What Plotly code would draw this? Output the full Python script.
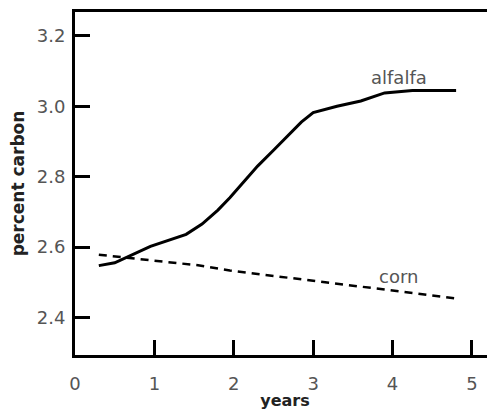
import plotly.graph_objects as go

alfalfa_x = [0.3, 0.5, 0.95, 1.4, 1.6, 1.8, 1.95, 2.15, 2.3, 2.5, 2.65, 2.85, 3.0, 3.3, 3.6, 3.9, 4.25, 4.8]
alfalfa_y = [2.547, 2.555, 2.602, 2.636, 2.665, 2.705, 2.74, 2.79, 2.83, 2.875, 2.91, 2.955, 2.982, 3.0, 3.015, 3.038, 3.045, 3.045]
corn_x = [0.3, 1.0, 1.55, 1.95, 2.5, 3.0, 3.7, 4.3, 4.85]
corn_y = [2.578, 2.562, 2.548, 2.533, 2.518, 2.505, 2.485, 2.468, 2.452]
x_ticks = [0, 1, 2, 3, 4, 5]
y_ticks = [2.4, 2.6, 2.8, 3.0, 3.2]

FONT = "DejaVu Sans"
fig = go.Figure()
fig.add_trace(go.Scatter(x=alfalfa_x, y=alfalfa_y, mode="lines",
                         line=dict(color="black", width=3), showlegend=False))
fig.add_trace(go.Scatter(x=corn_x, y=corn_y, mode="lines",
                         line=dict(color="black", width=2.5, dash="8px,6px"), showlegend=False))
fig.add_annotation(x=4.08, y=3.082, text="alfalfa", showarrow=False,
                   font=dict(family=FONT, size=18, color="#555"))
fig.add_annotation(x=4.07, y=2.515, text="corn", showarrow=False,
                   font=dict(family=FONT, size=18, color="#555"))

fig.update_layout(
    width=487, height=402,
    margin=dict(l=67, r=0, t=4, b=52),
    plot_bgcolor="white", paper_bgcolor="white",
    font=dict(family=FONT, size=18, color="#555"),
)
fig.update_xaxes(range=[0, 5.29], tickvals=x_ticks, ticktext=[str(v) for v in x_ticks],
                 showgrid=False, zeroline=False, showline=True, linecolor="black",
                 linewidth=3, mirror=True, ticks="inside", ticklen=15, tickwidth=3,
                 tickcolor="black", ticklabelstandoff=10,
                 title=dict(text="<b>years</b>", font=dict(family=FONT, size=16, color="#222"), standoff=5))
fig.update_yaxes(range=[2.293, 3.268], tickvals=y_ticks, ticktext=[f"{v:.1f}" for v in y_ticks],
                 showgrid=False, zeroline=False, showline=True, linecolor="black",
                 linewidth=3, ticks="inside", ticklen=15, tickwidth=3, tickcolor="black",
                 ticklabelstandoff=3,
                 title=dict(text="<b>percent carbon</b>", font=dict(family=FONT, size=17, color="#222"), standoff=9))

fig.write_html("out.html")
